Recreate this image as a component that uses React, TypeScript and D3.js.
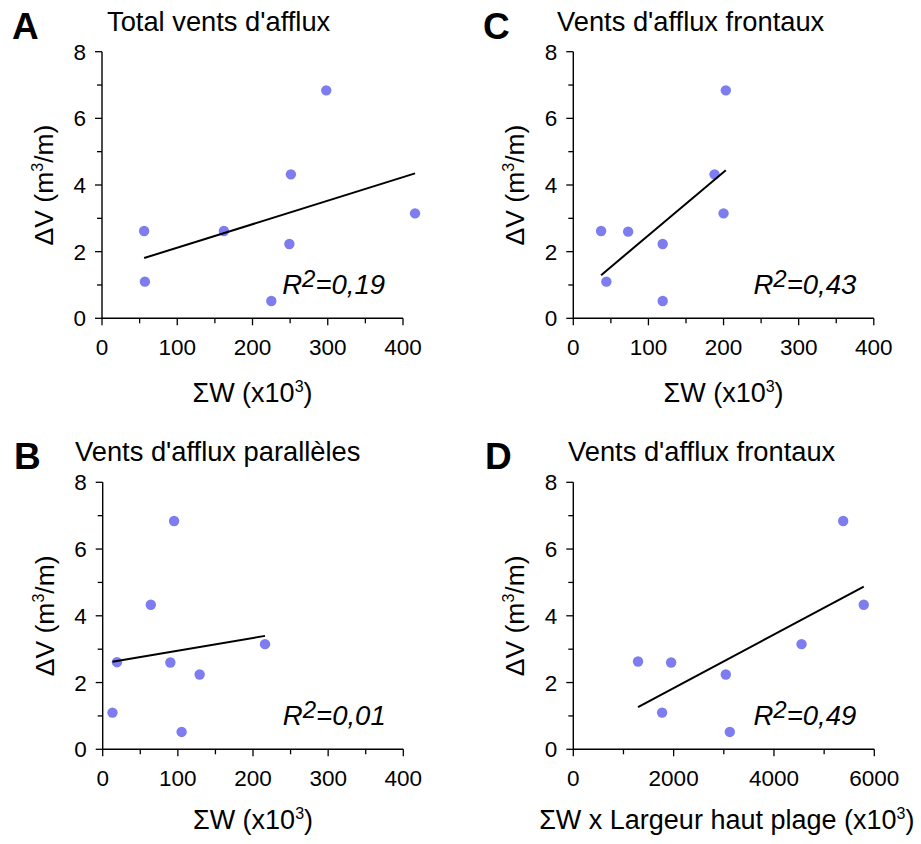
import React from "react";
import * as d3 from "d3";

// ---- data ----
const panelLetters = ["A", "C", "B", "D"];
const panelTitles = [
  "Total vents d'afflux",
  "Vents d'afflux frontaux",
  "Vents d'afflux parallèles",
  "Vents d'afflux frontaux",
];
const r2Labels = ["0,19", "0,43", "0,01", "0,49"];
const xLabelMain = ["ΣW (x10", "ΣW (x10", "ΣW (x10", "ΣW x Largeur haut plage (x10"];

const xA = [56, 57, 162, 225, 249, 251, 298, 416];
const yA = [2.62, 1.1, 2.62, 0.52, 2.23, 4.32, 6.84, 3.15];
const xC = [37, 73, 44, 119, 119, 188, 200, 203];
const yC = [2.62, 2.6, 1.1, 2.23, 0.52, 4.32, 3.15, 6.84];
const xB = [19, 13, 64, 90, 105, 129, 95, 216];
const yB = [2.61, 1.1, 4.33, 2.6, 0.52, 2.24, 6.84, 3.15];
const xD = [1290, 1950, 1770, 3040, 3120, 4550, 5380, 5790];
const yD = [2.63, 2.6, 1.1, 2.24, 0.52, 3.15, 6.84, 4.33];

const xDomains = [400, 400, 400, 6000];
const xMajorTicks = [
  [0, 100, 200, 300, 400],
  [0, 100, 200, 300, 400],
  [0, 100, 200, 300, 400],
  [0, 2000, 4000, 6000],
];
const xMinorTicks = [
  [50, 150, 250, 350],
  [50, 150, 250, 350],
  [50, 150, 250, 350],
  [1000, 3000, 5000],
];
const yMajorTicks = [0, 2, 4, 6, 8];
const yMinorTicks = [1, 3, 5, 7];

const panelXs = [xA, xC, xB, xD];
const panelYs = [yA, yC, yB, yD];

// layout
const layouts = [
  { x0: 102, x1: 403, yTop: 51.7, yBot: 318.3, letterX: 12, letterY: 39, titleX: 107, titleY: 31, xLabY: 402 },
  { x0: 573.3, x1: 873.8, yTop: 51.7, yBot: 318.3, letterX: 483, letterY: 39, titleX: 557, titleY: 31, xLabY: 402 },
  { x0: 102.7, x1: 403.3, yTop: 482.3, yBot: 749.3, letterX: 14, letterY: 469, titleX: 75, titleY: 461, xLabY: 829 },
  { x0: 573.3, x1: 874.3, yTop: 482.3, yBot: 749.3, letterX: 485, letterY: 469, titleX: 568, titleY: 461, xLabY: 829 },
];

const FONT = "'Liberation Sans', Arial, sans-serif";
const DOT = "#7d7def";

function regression(xs: number[], ys: number[]) {
  const mx = d3.mean(xs) as number;
  const my = d3.mean(ys) as number;
  let sxy = 0;
  let sxx = 0;
  xs.forEach((x, i) => {
    sxy += (x - mx) * (ys[i] - my);
    sxx += (x - mx) * (x - mx);
  });
  const b = sxy / sxx;
  const a = my - b * mx;
  const [lo, hi] = d3.extent(xs) as [number, number];
  return [
    [lo, a + b * lo],
    [hi, a + b * hi],
  ];
}

function Panel({ i }: { i: number }) {
  const L = layouts[i];
  const xs = panelXs[i];
  const ys = panelYs[i];
  const x = d3.scaleLinear().domain([0, xDomains[i]]).range([L.x0, L.x1]);
  const y = d3.scaleLinear().domain([0, 8]).range([L.yBot, L.yTop]);
  const reg = regression(xs, ys);
  const line = d3
    .line<number[]>()
    .x((d) => x(d[0]))
    .y((d) => y(d[1]));
  const midY = (L.yTop + L.yBot) / 2;
  const midX = (L.x0 + L.x1) / 2 + (i === 3 ? 3 : 0);
  return (
    <g fontFamily={FONT} fill="#000">
      <text x={L.letterX} y={L.letterY} fontSize={37} fontWeight="bold">
        {panelLetters[i]}
      </text>
      <text x={L.titleX} y={L.titleY} fontSize={27.3}>
        {panelTitles[i]}
      </text>
      {/* axes */}
      <line x1={L.x0} x2={L.x0} y1={y(0)} y2={y(8)} stroke="#000" strokeWidth={1.4} />
      <line x1={L.x0} x2={x(xDomains[i])} y1={y(0)} y2={y(0)} stroke="#000" strokeWidth={1.4} />
      {yMajorTicks.map((t) => (
        <g key={"ym" + t}>
          <line x1={L.x0 - 7} x2={L.x0} y1={y(t)} y2={y(t)} stroke="#000" strokeWidth={1.3} />
          <text x={L.x0 - 16} y={y(t)} dy="0.36em" fontSize={22.5} textAnchor="end">
            {t}
          </text>
        </g>
      ))}
      {yMinorTicks.map((t) => (
        <line key={"yn" + t} x1={L.x0 - 5} x2={L.x0} y1={y(t)} y2={y(t)} stroke="#000" strokeWidth={1.3} />
      ))}
      {xMajorTicks[i].map((t) => (
        <g key={"xm" + t}>
          <line x1={x(t)} x2={x(t)} y1={y(0)} y2={y(0) + 7} stroke="#000" strokeWidth={1.3} />
          <text x={x(t)} y={y(0) + 37} fontSize={22.5} textAnchor="middle">
            {t}
          </text>
        </g>
      ))}
      {xMinorTicks[i].map((t) => (
        <line key={"xn" + t} x1={x(t)} x2={x(t)} y1={y(0)} y2={y(0) + 5} stroke="#000" strokeWidth={1.3} />
      ))}
      {/* axis labels */}
      <text x={midX} y={L.xLabY} fontSize={27} textAnchor="middle">
        {xLabelMain[i]}
        <tspan fontSize={16} dy={-10}>
          3
        </tspan>
        <tspan dy={10}>)</tspan>
      </text>
      <text
        transform={`translate(${L.x0 - 49},${midY}) rotate(-90)`}
        fontSize={26.5}
        textAnchor="middle"
      >
        ΔV (m
        <tspan fontSize={16} dy={-10}>
          3
        </tspan>
        <tspan dy={10}>/m)</tspan>
      </text>
      {/* points */}
      {xs.map((v, k) => (
        <circle key={"p" + k} cx={x(v)} cy={y(ys[k])} r={5.2} fill={DOT} />
      ))}
      {/* regression */}
      <path d={line(reg) || ""} fill="none" stroke="#000" strokeWidth={2} />
      <text x={L.x0 + 283} y={L.yBot - 24} fontSize={27.5} fontStyle="italic" textAnchor="end">
        R
        <tspan fontSize={24} dy={-7}>
          2
        </tspan>
        <tspan dy={7}>={r2Labels[i]}</tspan>
      </text>
    </g>
  );
}

export default function App() {
  return (
    <div style={{ position: "absolute", left: 0, top: 0 }}>
      <svg width={921} height={844} style={{ display: "block", background: "#fff" }}>
        <rect width={921} height={844} fill="#fff" />
        {[0, 1, 2, 3].map((i) => (
          <Panel key={i} i={i} />
        ))}
      </svg>
    </div>
  );
}
